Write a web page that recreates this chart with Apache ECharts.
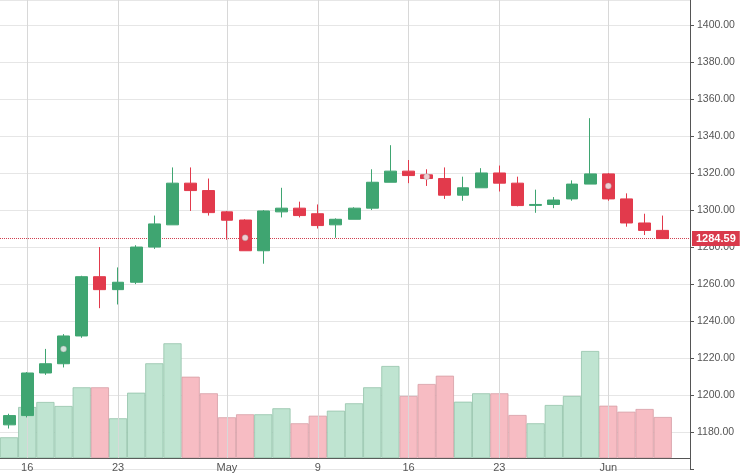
<!DOCTYPE html>
<html><head><meta charset="utf-8">
<script src="https://cdn.jsdelivr.net/npm/echarts@6/dist/echarts.min.js"></script>
<style>html,body{margin:0;padding:0;background:#fff}#c{width:745px;height:475px}</style>
</head><body><div id="c"></div>
<script>
// [open, close, low, high]
const ohlc = [
 [1184,1189,1182,1190],[1189,1212,1188,1212.5],[1212,1217,1211,1225],[1217,1232,1215,1233],
 [1232,1264,1231,1264.5],[1264,1257,1247,1280],[1257,1261,1249,1269],[1261,1280,1260,1281],
 [1280,1292.5,1279,1297],[1292,1314.5,1292,1323],[1314.5,1310.5,1299.5,1323],[1310.5,1298.6,1297,1317],
 [1299,1294.5,1284,1299.5],[1294.6,1278,1278,1295],[1278,1299.5,1271,1300],[1299,1301,1296,1312],
 [1301,1297,1296,1304.5],[1298,1291.6,1290,1303],[1292,1295,1285,1295.5],[1295,1301,1295,1301.5],
 [1301,1315,1300,1322],[1315,1321,1315,1335],[1321,1318.6,1314.5,1327],[1319,1317,1313,1322],
 [1317,1308,1306,1323],[1308,1312,1305,1318],[1312,1320,1312,1322.6],[1320,1314.5,1310,1324],
 [1314.5,1302.4,1302,1318],[1302.5,1303,1298.5,1311],[1303,1305.4,1301,1307],[1306,1314,1305,1316],
 [1314,1319.5,1314,1349.6],[1319.5,1306,1305,1320],[1306,1293,1291,1309],[1293,1289,1286.5,1298],
 [1289,1284.59,1284.5,1297]
];
const volumes = [20.7,51,56,52,70.7,70.7,39.7,65.3,94.7,114.7,81.3,64.7,40.7,43.7,43.7,49.7,34.7,42.3,47.3,54.7,
 70.7,92,62,74,82.3,56.3,64.7,64.7,43,34.7,53,62,107,52.3,46.3,49,41];
const dateLabels = ['','16','','','','','23','','','','','','May','','','','','9','','','','','16','','','','','23','','','','','','Jun','','','',''];
const markers = [[3,1225],[13,1285],[23,1318],[33,1313]];
const lastPrice = 1284.59;
const yTicks = [1180,1200,1220,1240,1260,1280,1300,1320,1340,1360,1380,1400];

const cats = dateLabels.map((d,i)=>String(i));
const green='#3fa571', red='#e23a4c';
const volData = volumes.map((v,i)=>{
  const up = ohlc[i][1] >= ohlc[i][0];
  return {value:v,itemStyle:{color:up?'#bfe4d1':'#f7bcc3',borderColor:up?'#93c3aa':'#d69ea6',borderWidth:0.8}};
});
const labelIdx = dateLabels.map((d,i)=>d?i:-1).filter(i=>i>=0);
const chart = echarts.init(document.getElementById('c'));
chart.setOption({
  animation:false,
  grid:[{left:0,right:55,top:0,bottom:5.7},{left:0,right:55,top:0,bottom:17}],
  xAxis:[
    {type:'category',gridIndex:0,data:cats,show:false},
    {type:'category',gridIndex:1,data:cats,axisLine:{lineStyle:{color:'#555'}},axisTick:{show:false},
     axisLabel:{interval:0,formatter:(v,i)=>dateLabels[i],color:'#555',fontSize:11,margin:4,fontFamily:'Liberation Sans'},
     splitLine:{show:false}}
  ],
  yAxis:[
    {type:'value',gridIndex:0,position:'right',min:1160,max:1413.4,interval:20,
     axisLine:{show:true,lineStyle:{color:'#555'}},axisTick:{show:true,length:4,lineStyle:{color:'#555'}},
     axisLabel:{color:'#555',fontSize:10.5,margin:7,fontFamily:'Liberation Sans',showMaxLabel:false,
       formatter:v=>yTicks.includes(v)?v.toFixed(2):''},
     splitLine:{lineStyle:{color:'#e6e6e6'}}},
    {type:'value',gridIndex:1,min:0,max:458,show:false}
  ],
  series:[
    {type:'bar',xAxisIndex:1,yAxisIndex:1,data:volData,barCategoryGap:'0%',z:1,
     markLine:{silent:true,symbol:'none',label:{show:false},lineStyle:{color:'#d8d8d8',type:'solid',width:1},
       data:labelIdx.map(i=>({xAxis:String(i)}))}},
    {type:'candlestick',xAxisIndex:0,yAxisIndex:0,data:ohlc,barWidth:'68%',z:5,
     itemStyle:{color:green,color0:red,borderColor:green,borderColor0:red,borderWidth:1},
     markLine:{silent:true,symbol:'none',lineStyle:{color:'#d04050',type:'dotted',width:1},
       label:{position:'end',formatter:()=>lastPrice.toFixed(2),color:'#fff',backgroundColor:'#d9394b',
         padding:[2,4],fontSize:11,fontWeight:'bold',distance:2,fontFamily:'Liberation Sans'},
       data:[{yAxis:lastPrice}]}},
    {type:'scatter',xAxisIndex:0,yAxisIndex:0,data:markers.map(m=>[String(m[0]),m[1]]),symbolSize:6,z:6,
     itemStyle:{color:'#f4f4f4',borderColor:'#999',borderWidth:0.5}}
  ]
});
</script></body></html>
